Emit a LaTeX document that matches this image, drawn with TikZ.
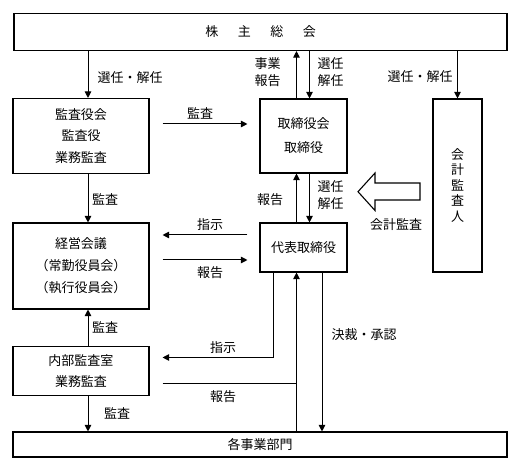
\documentclass[tikz,border=0pt]{standalone}
\usepackage{fontspec}
\newfontfamily\cjk{Noto Sans CJK JP}
\usetikzlibrary{arrows.meta,calc}
\begin{document}
\begin{tikzpicture}[x=1pt,y=-1pt,
  box/.style={draw, line width=1.1pt, align=center, inner sep=0pt, font=\cjk\fontsize{13}{22}\selectfont},
  lbl/.style={font=\cjk\fontsize{13}{17}\selectfont, align=center, inner sep=0pt},
  arr/.style={line width=1pt, -{Triangle[width=6.5pt,length=6.5pt]}},
  ln/.style={line width=1pt}]
\useasboundingbox[fill=white] (0,0) rectangle (520,470);

% boxes
\node[box, minimum width=493pt, minimum height=37pt] (gm) at (260.5,32) {株\hspace{19.5pt}主\hspace{19.5pt}総\hspace{19.5pt}会};
\node[box, minimum width=136pt, minimum height=75pt, font=\cjk\fontsize{13}{21.7}\selectfont] (kansa) at (81,136) {監査役会\\監査役\\業務監査};
\node[box, minimum width=87pt, minimum height=74pt, font=\cjk\fontsize{13}{24}\selectfont] (board) at (303.5,136) {取締役会\\取締役};
\node[box, minimum width=49pt, minimum height=173pt, font=\cjk\fontsize{13}{15.5}\selectfont] (audit) at (457.5,185.5) {会\\計\\監\\査\\人};
\node[box, minimum width=87pt, minimum height=49pt] (rep) at (303.5,247.5) {代表取締役};
\node[box, minimum width=136pt, minimum height=86pt] (mgmt) at (81,266) {経営会議\\（常勤役員会）\\（執行役員会）};
\node[box, minimum width=136pt, minimum height=49pt, font=\cjk\fontsize{13}{21.7}\selectfont] (inner) at (81,371) {内部監査室\\業務監査};
\node[box, minimum width=494pt, minimum height=25pt] (dept) at (260,444.5) {各事業部門};

% helper coordinates
\coordinate (xa) at (88,0);
\coordinate (xb) at (296.5,0);
\coordinate (xc) at (309.5,0);
\coordinate (xd) at (457.5,0);
\coordinate (xe) at (273,0);
\coordinate (xf) at (322,0);
\coordinate (ya) at (0,124);
\coordinate (yb) at (0,235);
\coordinate (yc) at (0,260);
\coordinate (yd) at (0,357.5);
\coordinate (ye) at (0,383.5);
\coordinate (jn) at (296.5,383.5);

% connectors
\draw[arr] (xa |- gm.south) -- (xa |- kansa.north);
\draw[arr] (xb |- board.north) -- (xb |- gm.south);
\draw[arr] (xc |- gm.south) -- (xc |- board.north);
\draw[arr] (xd |- gm.south) -- (xd |- audit.north);
\draw[arr, shorten <=13pt, shorten >=12pt] (kansa.east |- ya) -- (board.west |- ya);
\draw[arr] (xa |- kansa.south) -- (xa |- mgmt.north);
\draw[arr, shorten <=12pt, shorten >=13pt] (rep.west |- yb) -- (mgmt.east |- yb);
\draw[arr, shorten <=13pt, shorten >=12pt] (mgmt.east |- yc) -- (rep.west |- yc);
\draw[arr] (xb |- rep.north) -- (xb |- board.south);
\draw[arr] (xc |- board.south) -- (xc |- rep.north);
\draw[arr, shorten >=13pt] (xe |- rep.south) |- (inner.east |- yd);
\draw[arr] (xb |- dept.north) -- (xb |- rep.south);
\draw[ln, shorten <=13pt] (inner.east |- ye) -- (jn);
\draw[arr] (xf |- rep.south) -- (xf |- dept.north);
\draw[arr] (xa |- inner.north) -- (xa |- mgmt.south);
\draw[arr] (xa |- inner.south) -- (xa |- dept.north);

% hollow arrow (会計監査)
\draw[line width=1.1pt, fill=white] (420,183) -- (375,183) -- (375,173) -- (358,191.7) -- (375,210.5) -- (375,200) -- (420,200) -- cycle;

% labels
\node[lbl] (l1) at (130,78) {選任・解任};
\node[lbl] (l2) at (267.7,72) {事業\\報告};
\node[lbl] (l3) at (330.7,72) {選任\\解任};
\node[lbl] (l4) at (420,77) {選任・解任};
\node[lbl] (l5) at (200,113) {監査};
\node[lbl] (l6) at (105,199) {監査};
\node[lbl] (l7) at (270,200) {報告};
\node[lbl] (l8) at (330.7,195) {選任\\解任};
\node[lbl] (l9) at (396,225) {会計監査};
\node[lbl] (l10) at (210,225) {指示};
\node[lbl] (l11) at (210,273) {報告};
\node[lbl] (l12) at (105,327) {監査};
\node[lbl] (l13) at (364,335) {決裁・承認};
\node[lbl] (l14) at (223,348) {指示};
\node[lbl] (l15) at (223,397) {報告};
\node[lbl] (l16) at (117,413) {監査};
\end{tikzpicture}
\end{document}
